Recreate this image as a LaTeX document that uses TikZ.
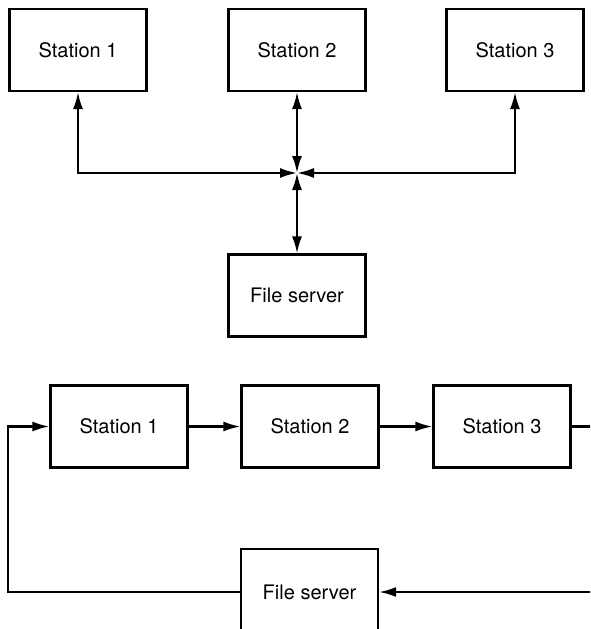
\documentclass[tikz,border=0pt]{standalone}
\usepackage{fontspec}
\setmainfont{TeX Gyre Heros}
\usetikzlibrary{arrows.meta}
\begin{document}
\begin{tikzpicture}[x=1pt,y=-1pt,
  box/.style={draw,line width=2.2pt,minimum width=137pt,minimum height=82pt,inner sep=0pt,
    font=\fontsize{20}{23}\selectfont},
  conn/.style={line width=2.2pt,arrows={-Latex[length=17pt,width=10pt]}},
  bconn/.style={line width=2.2pt,arrows={Latex[length=17pt,width=10pt]-Latex[length=17pt,width=10pt]}},
  plain/.style={line width=2.2pt}]
\useasboundingbox (0,0) rectangle (590,629);
\clip (0,0) rectangle (590,629);
% top: star network
\node[box] (s1) at (78,50) {Station 1};
\node[box] (s2) at (297,50) {Station 2};
\node[box] (s3) at (515,50) {Station 3};
\node[box] (fs) at (297,295.5) {File server};
\coordinate (J) at (297,173);
\draw[bconn] (s1.south) |- (J);
\draw[bconn] (s3.south) |- (J);
\draw[bconn] (s2.south) -- (J);
\draw[bconn] (J) -- (fs.north);
% bottom: ring network
\node[box] (b1) at (119,426.5) {Station 1};
\node[box] (b2) at (310,426.5) {Station 2};
\node[box] (b3) at (502,426.5) {Station 3};
\node[box,minimum height=86pt] (fs2) at (309.5,592) {File server};
\coordinate (R1) at (592,426.5);
\coordinate (R2) at (592,592);
\coordinate (L1) at (8,592);
\draw[conn] (b1.east) -- (b2.west);
\draw[conn] (b2.east) -- (b3.west);
\draw[plain] (b3.east) -- (R1);
\draw[conn] (R2) -- (fs2.east);
\draw[conn] (fs2.west) -- (L1) |- (b1.west);
\end{tikzpicture}
\end{document}
